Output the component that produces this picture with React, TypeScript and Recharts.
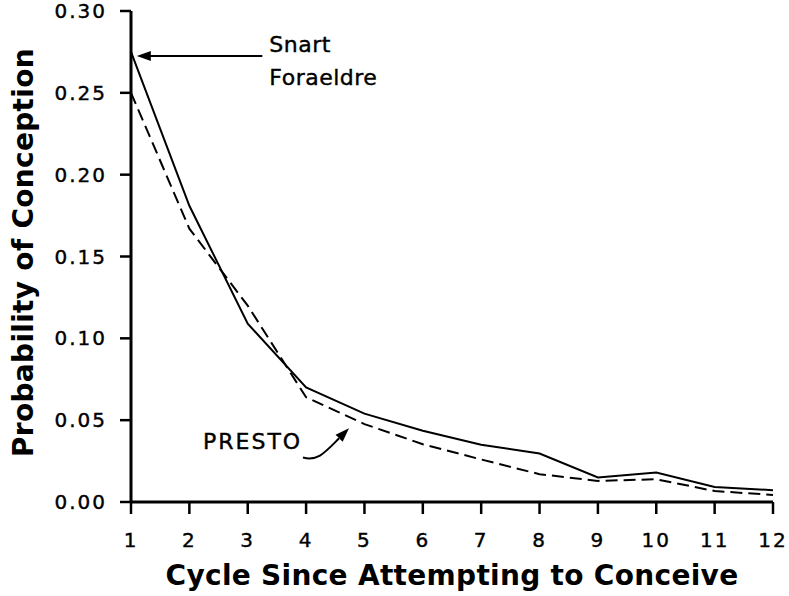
import { LineChart, Line, XAxis, YAxis, ReferenceLine, Label } from "recharts";

const cycles = [1, 2, 3, 4, 5, 6, 7, 8, 9, 10, 11, 12];
const snartForaeldre = [0.275, 0.181, 0.109, 0.07, 0.054, 0.0435, 0.035, 0.0296, 0.015, 0.018, 0.0092, 0.0072];
const presto = [0.25, 0.167, 0.12, 0.064, 0.0476, 0.0353, 0.026, 0.017, 0.0129, 0.0139, 0.0067, 0.0043];
const yTicks = [0, 0.05, 0.1, 0.15, 0.2, 0.25, 0.3];

const data = cycles.map((c, i) => ({
  cycle: c,
  snart: snartForaeldre[i],
  presto: presto[i],
}));

const FONT = '"DejaVu Sans", Verdana, sans-serif';

// straight arrow pointing at the first Snart Foraeldre point, with its label
function SnartArrow(props: any) {
  const { x1, y1, x2, y2 } = props;
  return (
    <g>
      <line x1={x1 + 12} y1={y1} x2={x2} y2={y2} stroke="#000" strokeWidth={2} />
      <polygon points={`${x1},${y1} ${x1 + 14},${y1 - 5} ${x1 + 14},${y1 + 5}`} fill="#000" />
      <g fontFamily={FONT} fontSize={22} letterSpacing={0.5} fill="#000" stroke="#000" strokeWidth={0.4}>
        <text x={x2 + 7} y={y2 - 4}>Snart</text>
        <text x={x2 + 7} y={y2 + 29}>Foraeldre</text>
      </g>
    </g>
  );
}

// curved arrow from the PRESTO label to the dashed line
function PrestoArrow(props: any) {
  const { x1, y1, x2, y2 } = props;
  const c2x = x1 + 22;
  const c2y = y1 - 5;
  const ang = Math.atan2(y2 - c2y, x2 - c2x);
  const len = 14;
  const hw = 5;
  const bx = x2 - len * Math.cos(ang);
  const by = y2 - len * Math.sin(ang);
  const px = -Math.sin(ang) * hw;
  const py = Math.cos(ang) * hw;
  return (
    <g>
      <path
        d={`M ${x1} ${y1} C ${x1 + 15} ${y1 + 4}, ${c2x} ${c2y}, ${bx} ${by}`}
        fill="none"
        stroke="#000"
        strokeWidth={2}
      />
      <polygon points={`${x2},${y2} ${bx + px},${by + py} ${bx - px},${by - py}`} fill="#000" />
      <text
        x={x1 - 100}
        y={y1 - 8}
        fontFamily={FONT}
        fontSize={22}
        letterSpacing={2}
        fill="#000"
        stroke="#000"
        strokeWidth={0.4}
      >
        PRESTO
      </text>
    </g>
  );
}

const tickStyle = {
  fill: "#000",
  stroke: "#000",
  strokeWidth: 0.4,
  fontSize: 20,
  fontFamily: FONT,
  letterSpacing: 2,
};

export default function App() {
  return (
    <div style={{ position: "absolute", left: 0, top: 0, background: "#fff" }}>
      <LineChart
        width={789}
        height={596}
        data={data}
        margin={{ top: 11, right: 16, bottom: 0, left: 0 }}
      >
        <XAxis
          dataKey="cycle"
          type="number"
          domain={[1, 12]}
          ticks={cycles}
          interval={0}
          height={94}
          axisLine={{ stroke: "#000", strokeWidth: 3 }}
          tickLine={{ stroke: "#000", strokeWidth: 2.5 }}
          tickSize={12}
          tickMargin={19}
          tick={tickStyle}
        >
          <Label
            content={({ viewBox }: any) => (
              <text
                x={viewBox.x + viewBox.width / 2}
                y={viewBox.y + 83}
                textAnchor="middle"
                fontFamily={FONT}
                fontWeight="bold"
                fontSize={28}
                letterSpacing={0.3}
                fill="#000"
              >
                Cycle Since Attempting to Conceive
              </text>
            )}
          />
        </XAxis>
        <YAxis
          type="number"
          domain={[0, 0.3]}
          ticks={yTicks}
          interval={0}
          width={131}
          tickFormatter={(v: number) => v.toFixed(2)}
          axisLine={{ stroke: "#000", strokeWidth: 3 }}
          tickLine={{ stroke: "#000", strokeWidth: 2.5 }}
          tickSize={11}
          tickMargin={13}
          tick={tickStyle}
        >
          <Label
            content={({ viewBox }: any) => {
              const cx = 33;
              const cy = viewBox.y + viewBox.height / 2 - 4;
              return (
                <text
                  x={cx}
                  y={cy}
                  transform={`rotate(-90, ${cx}, ${cy})`}
                  textAnchor="middle"
                  fontFamily={FONT}
                  fontWeight="bold"
                  fontSize={28}
                  letterSpacing={0.3}
                  fill="#000"
                >
                  Probability of Conception
                </text>
              );
            }}
          />
        </YAxis>
        <Line
          type="linear"
          dataKey="snart"
          stroke="#000"
          strokeWidth={2}
          dot={false}
          isAnimationActive={false}
        />
        <Line
          type="linear"
          dataKey="presto"
          stroke="#000"
          strokeWidth={2}
          strokeDasharray="12 6"
          dot={false}
          isAnimationActive={false}
        />
        <ReferenceLine
          segment={[
            { x: 1.1, y: 0.2725 },
            { x: 3.25, y: 0.2725 },
          ]}
          ifOverflow="visible"
          shape={SnartArrow}
        />
        <ReferenceLine
          segment={[
            { x: 3.947, y: 0.0272 },
            { x: 4.735, y: 0.045 },
          ]}
          ifOverflow="visible"
          shape={PrestoArrow}
        />
      </LineChart>
    </div>
  );
}
